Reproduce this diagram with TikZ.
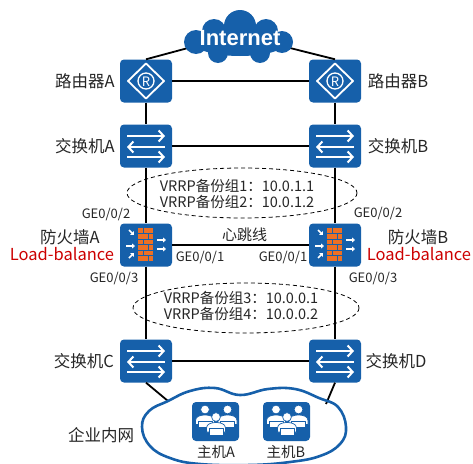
\documentclass[tikz,border=0pt]{standalone}
\usepackage{fontspec}
\setmainfont{Noto Sans CJK SC}
\newfontfamily\netfont{Liberation Sans}
\usetikzlibrary{arrows.meta}

\definecolor{devblue}{RGB}{22,96,170}
\definecolor{wallorange}{RGB}{236,112,36}
\definecolor{lbred}{RGB}{204,0,0}

\tikzset{
  dev/.style={fill=devblue, rounded corners=4pt, minimum width=52pt,
    minimum height=43pt, inner sep=0pt},
  host/.style={dev, minimum width=47pt, minimum height=39pt},
  link/.style={line width=1.8pt, line cap=butt},
  grp/.style={line width=0.8pt, dash pattern=on 4pt off 3pt},
  lbl/.style={font=\fontsize{16.5}{16.5}\selectfont, text=black!85},
  port/.style={font=\fontsize{13}{13}\selectfont, text=black!85},
  vrrp/.style={font=\fontsize{14.5}{16}\selectfont, text=black!85, align=center},
  % 路由器图标
  router/.pic={
    \draw[white, line width=1.8pt] (0,-17.5) -- (18,0) -- (0,17.5) -- (-18,0) -- cycle;
    \draw[white, line width=1.3pt] (0,0) circle (8);
    \node[white, font=\fontsize{13}{13}\selectfont] at (0,0.5) {R};
  },
  % 交换机图标
  switch/.pic={
    \draw[white, line width=2pt, -{Straight Barb[length=5pt, width=11pt]}] (-19,-10) -- (19,-10);
    \draw[white, line width=2pt, -{Straight Barb[length=5pt, width=11pt]}] (19,1) -- (-19,1);
    \draw[white, line width=2pt, -{Straight Barb[length=5pt, width=11pt]}] (-19,11) -- (19,11);
  },
  % 防火墙图标
  firewall/.pic={
    \fill[wallorange] (-8,-17) rectangle (7,16);
    \foreach \k in {1,...,5}
      \draw[devblue, line width=0.8pt] (-8,-17+5.5*\k) -- (7,-17+5.5*\k);
    \foreach \k in {0,...,5}{
      \pgfmathsetmacro{\sx}{mod(\k,2)==0 ? -3 : 2}
      \draw[devblue, line width=0.8pt] (\sx,-17+5.5*\k) -- (\sx,-11.5+5.5*\k);
    }
    \begin{scope}[white, line width=1.5pt, -{Triangle[length=3pt, width=5pt]}]
      \draw (-17,-15) -- (-12,-10);
      \draw (-20,1) -- (-11,1);
      \draw (-17,13) -- (-12,8);
      \draw (11,-5) -- (20,-5);
      \draw (11,4) -- (20,4);
    \end{scope}
  },
  % 主机图标（三个坐在电脑前的人）
  hosts/.pic={
    \foreach \px/\py in {-10.5/-12, 12/-12, 0.5/-4.5}{
      \filldraw[fill=white, draw=devblue, line width=0.7pt] (\px,\py) circle (4.4);
      \filldraw[fill=white, draw=devblue, line width=0.7pt]
        (\px-9.5,\py+15) -- (\px-9.5,\py+11) to[out=90, in=180] (\px,\py+5.5)
        to[out=0, in=90] (\px+9.5,\py+11) -- (\px+9.5,\py+15) -- cycle;
      \filldraw[fill=white, draw=devblue, line width=0.7pt]
        (\px-7,\py+11.5) rectangle (\px+7,\py+18);
      \draw[devblue, line width=0.7pt] (\px-9.5,\py+18) -- (\px+9.5,\py+18);
    }
  },
}

\begin{document}
\begin{tikzpicture}[x=1pt, y=-1pt, line join=round]
\useasboundingbox (0,0) rectangle (473,463);

%-----------------------
% 参数：左右两列与各层的位置
%-----------------------
\def\xl{146}   % 左列
\def\xr{335}   % 右列
\def\yrt{81}   % 路由器
\def\ysw{146}  % 上层交换机
\def\yfw{245}  % 防火墙
\def\ysd{361}  % 下层交换机

%-----------------------
% 设备
%-----------------------
\node[dev] (RA)  at (\xl,\yrt) {};
\node[dev] (RB)  at (\xr,\yrt) {};
\node[dev] (SWA) at (\xl,\ysw) {};
\node[dev] (SWB) at (\xr,\ysw) {};
\node[dev] (FWA) at (\xl,\yfw) {};
\node[dev] (FWB) at (\xr,\yfw) {};
\node[dev] (SWC) at (\xl,\ysd) {};
\node[dev] (SWD) at (\xr,\ysd) {};

\pic at (RA) {router};   \pic at (RB) {router};
\pic at (SWA) {switch};  \pic at (SWB) {switch};
\pic at (FWA) {firewall}; \pic at (FWB) {firewall};
\pic at (SWC) {switch};  \pic at (SWD) {switch};

%-----------------------
% 云的接入点
%-----------------------
\coordinate (netL) at (188,48);
\coordinate (netR) at (290,48);
\coordinate (lanL) at (168,401);
\coordinate (lanR) at (326,404);

%-----------------------
% 连线
%-----------------------
\draw[link] (RA.north) -- (netL);
\draw[link] (RB.north) -- (netR);
\draw[link] (RA) -- (RB);
\draw[link] (RA) -- (SWA);
\draw[link] (RB) -- (SWB);
\draw[link] (SWA) -- (SWB);
\draw[link] (SWA) -- (FWA);
\draw[link] (SWB) -- (FWB);
\draw[link] (FWA) -- (FWB) node[lbl, pos=0.53, above=-1pt, font=\fontsize{15}{15}\selectfont] {心跳线};
\draw[link] (FWA) -- (SWC);
\draw[link] (FWB) -- (SWD);
\draw[link] (SWC) -- (SWD);
\draw[link] (SWC.south) -- (lanL);
\draw[link] (SWD.south) -- (lanR);

%-----------------------
% Internet 云
%-----------------------
\begin{scope}[fill=devblue]
  \fill (240,42) ellipse [x radius=47, y radius=14];
  \fill (196,42) circle (12);
  \fill (282,42) circle (11);
  \fill (240,26) circle (16);
  \fill (214,31) circle (12);
  \fill (266,31) circle (12);
  \fill (218,53) circle (10);
  \fill (260,53) circle (10);
\end{scope}
\node[white, font=\netfont\bfseries\fontsize{22}{22}\selectfont] (net) at (240,38) {Internet};

%-----------------------
% 企业内网云与主机
%-----------------------
\draw[devblue, line width=2.6pt] plot[smooth cycle, tension=0.7] coordinates {
  (168,401) (190,391) (215,388) (240,395) (268,389) (295,389) (319,398)
  (338,407) (346,427) (340,444) (320,456) (290,462) (250,465) (200,464)
  (170,458) (150,446) (142,427) (149,411)};
\node[host] (HA) at (215.5,421.5) {};
\node[host] (HB) at (286.5,421.5) {};
\pic at (HA) {hosts};
\pic at (HB) {hosts};

%-----------------------
% VRRP 备份组
%-----------------------
\draw[grp] (242,193) ellipse [x radius=115, y radius=25];
\draw[grp] (246,308) ellipse [x radius=113, y radius=25];
\node[vrrp] (g12) at (237,194) {VRRP备份组1：10.0.1.1\\VRRP备份组2：10.0.1.2};
\node[vrrp] (g34) at (241,306) {VRRP备份组3：10.0.0.1\\VRRP备份组4：10.0.0.2};

%-----------------------
% 标注
%-----------------------
\node[lbl] at (85,\yrt)  {路由器A};
\node[lbl] at (398,\yrt) {路由器B};
\node[lbl] at (85,\ysw)  {交换机A};
\node[lbl] at (398,\ysw) {交换机B};
\node[lbl] at (70,237)   {防火墙A};
\node[lbl] at (418,237)  {防火墙B};
\node[lbl, text=lbred] at (62,254)  {Load-balance};
\node[lbl, text=lbred] at (419,254) {Load-balance};
\node[lbl] at (84,\ysd)  {交换机C};
\node[lbl] at (396,\ysd) {交换机D};
\node[lbl] at (101,435)  {企业内网};
\node[lbl, font=\fontsize{14.5}{14.5}\selectfont] at (216,452) {主机A};
\node[lbl, font=\fontsize{14.5}{14.5}\selectfont] at (286,452) {主机B};

\node[port] at (106,214) {GE0/0/2};
\node[port] at (114,278) {GE0/0/3};
\node[port] at (200,257) {GE0/0/1};
\node[port] at (283,257) {GE0/0/1};
\node[port] at (378,213) {GE0/0/2};
\node[port] at (373,278) {GE0/0/3};

\end{tikzpicture}
\end{document}
